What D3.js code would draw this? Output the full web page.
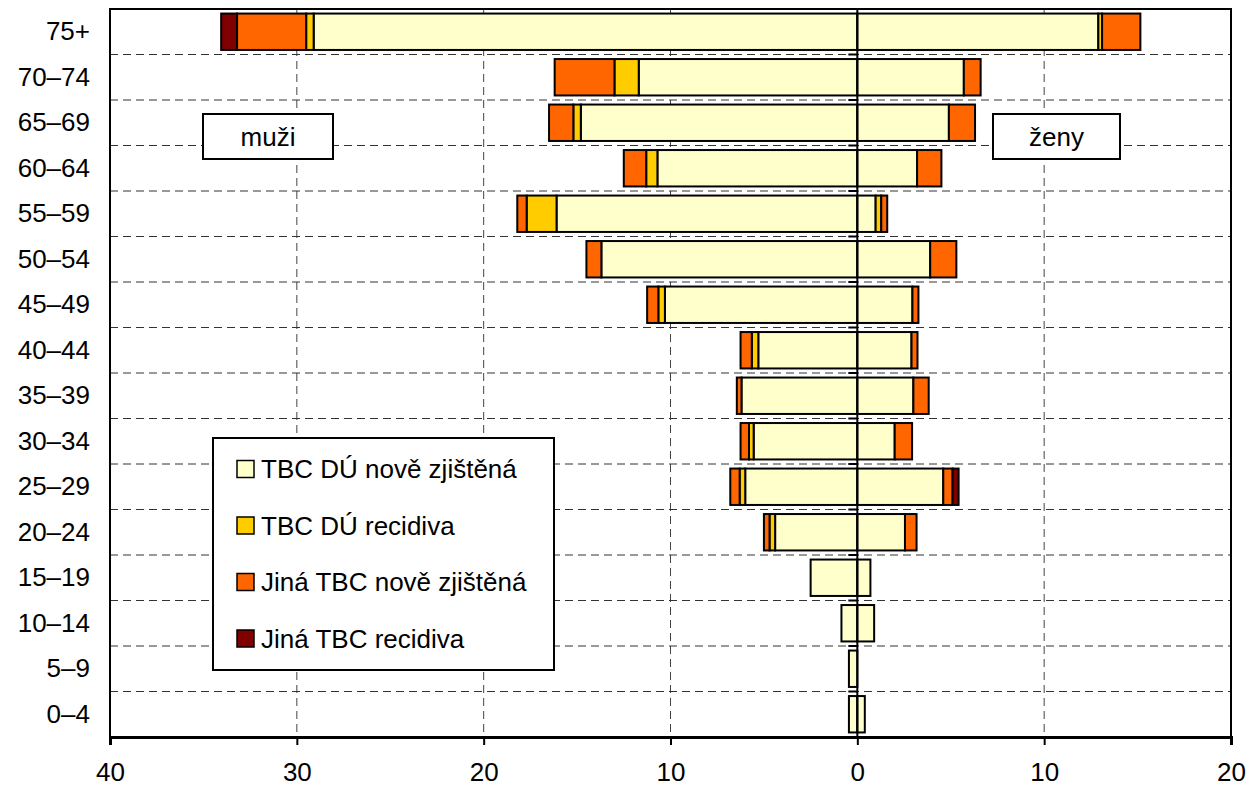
<!DOCTYPE html>
<html>
<head>
<meta charset="utf-8">
<script src="https://cdn.jsdelivr.net/npm/d3@7/dist/d3.min.js"></script>
<style>
  body { margin: 0; background: #fff; }
  svg text { font-family: "Liberation Sans", Arial, sans-serif; fill: #000; }
</style>
</head>
<body>
<svg id="chart" width="1255" height="789"></svg>
<script>
// age groups, top to bottom
var ageGroups = ['75+', '70–74', '65–69', '60–64', '55–59', '50–54', '45–49', '40–44',
    '35–39', '30–34', '25–29', '20–24', '15–19', '10–14', '5–9', '0–4'];

// men (left side)
var menDuNew = [29.1, 11.7, 14.8, 10.7, 16.1, 13.7, 10.3, 5.3, 6.2, 5.55, 6.0, 4.4, 2.5, 0.85, 0.45, 0.45];
var menDuRec = [0.4, 1.3, 0.4, 0.6, 1.6, 0, 0.35, 0.35, 0, 0.25, 0.3, 0.3, 0, 0, 0, 0];
var menOtherNew = [3.7, 3.2, 1.3, 1.2, 0.5, 0.8, 0.6, 0.6, 0.25, 0.45, 0.5, 0.3, 0, 0, 0, 0];
var menOtherRec = [0.85, 0, 0, 0, 0, 0, 0, 0, 0, 0, 0, 0, 0, 0, 0, 0];

// women (right side)
var womenDuNew = [12.9, 5.7, 4.9, 3.2, 0.98, 3.9, 2.95, 2.9, 3.0, 2.0, 4.6, 2.55, 0.7, 0.9, 0, 0.4];
var womenDuRec = [0.2, 0, 0, 0, 0.3, 0, 0, 0, 0, 0, 0, 0, 0, 0, 0, 0];
var womenOtherNew = [2.05, 0.9, 1.4, 1.3, 0.32, 1.4, 0.32, 0.32, 0.82, 0.93, 0.5, 0.62, 0, 0, 0, 0];
var womenOtherRec = [0, 0, 0, 0, 0, 0, 0, 0, 0, 0, 0.32, 0, 0, 0, 0, 0];

var seriesNames = ['TBC DÚ nově zjištěná', 'TBC DÚ recidiva', 'Jiná TBC nově zjištěná', 'Jiná TBC recidiva'];
var seriesColors = ['#FFFFCC', '#FFCC00', '#FF6600', '#800000'];
var xTicks = [-40, -30, -20, -10, 0, 10, 20];

var svg = d3.select('#chart');
var plotLeft = 110, plotRight = 1231, plotTop = 9, plotBottom = 737;
var fontSize = '26px';

var x = d3.scaleLinear().domain([-40, 20]).range([plotLeft, plotRight]);
var y = d3.scaleBand().domain(ageGroups).range([plotTop, plotBottom]).paddingInner(0.2).paddingOuter(0.1);

// grid: vertical dashed lines
svg.append('g').selectAll('line')
    .data(xTicks.filter(function(d) { return d !== 0 && d !== -40 && d !== 20; }))
    .enter().append('line')
    .attr('x1', function(d) { return x(d); })
    .attr('x2', function(d) { return x(d); })
    .attr('y1', plotTop).attr('y2', plotBottom)
    .attr('stroke', '#444').attr('stroke-width', 1)
    .attr('stroke-dasharray', '8,5');

// grid: horizontal dashed lines between age groups
var bounds = d3.range(1, ageGroups.length).map(function(i) {
    return plotTop + i * (plotBottom - plotTop) / ageGroups.length;
});
svg.append('g').selectAll('line')
    .data(bounds)
    .enter().append('line')
    .attr('x1', plotLeft).attr('x2', plotRight)
    .attr('y1', function(d) { return d; })
    .attr('y2', function(d) { return d; })
    .attr('stroke', '#333').attr('stroke-width', 1)
    .attr('stroke-dasharray', '8,5');

// build stacked segments (men negative, women positive)
var menSeries = [menDuNew, menDuRec, menOtherNew, menOtherRec];
var womenSeries = [womenDuNew, womenDuRec, womenOtherNew, womenOtherRec];
var segments = [];
ageGroups.forEach(function(age, i) {
    var m = 0, w = 0;
    for (var s = 0; s < 4; s++) {
        var mv = menSeries[s][i];
        if (mv > 0) segments.push({age: age, s: s, x0: -(m + mv), x1: -m});
        m += mv;
        var wv = womenSeries[s][i];
        if (wv > 0) segments.push({age: age, s: s, x0: w, x1: w + wv});
        w += wv;
    }
});

// bars
svg.append('g').selectAll('rect')
    .data(segments)
    .enter().append('rect')
    .attr('x', function(d) { return x(d.x0); })
    .attr('width', function(d) { return x(d.x1) - x(d.x0); })
    .attr('y', function(d) { return y(d.age); })
    .attr('height', y.bandwidth())
    .attr('fill', function(d) { return seriesColors[d.s]; })
    .attr('stroke', '#000')
    .attr('stroke-width', 2);

// centre axis with small ticks
svg.append('line')
    .attr('x1', x(0)).attr('x2', x(0))
    .attr('y1', plotTop).attr('y2', plotBottom)
    .attr('stroke', '#000').attr('stroke-width', 2);
svg.append('g').selectAll('line')
    .data(bounds)
    .enter().append('line')
    .attr('x1', x(0) - 9).attr('x2', x(0))
    .attr('y1', function(d) { return d; })
    .attr('y2', function(d) { return d; })
    .attr('stroke', '#000').attr('stroke-width', 2);

// frame
svg.append('rect')
    .attr('x', plotLeft).attr('y', plotTop)
    .attr('width', plotRight - plotLeft).attr('height', plotBottom - plotTop)
    .attr('fill', 'none').attr('stroke', '#000').attr('stroke-width', 2);

// x axis
var xAxis = svg.append('g')
    .attr('transform', 'translate(0,' + plotBottom + ')')
    .call(d3.axisBottom(x).tickValues(xTicks).tickFormat(function(d) { return Math.abs(d); })
        .tickSize(8).tickPadding(18));
xAxis.select('.domain').attr('stroke', '#000').attr('stroke-width', 3);
xAxis.selectAll('.tick line').attr('stroke', '#000').attr('stroke-width', 2);
xAxis.selectAll('text').style('font-size', fontSize);

// y axis labels
var yAxis = svg.append('g')
    .attr('transform', 'translate(' + plotLeft + ',0)')
    .call(d3.axisLeft(y).tickSize(0).tickPadding(20));
yAxis.select('.domain').remove();
yAxis.selectAll('text').style('font-size', fontSize);

// side labels
function sideLabel(txt, x0, x1) {
    svg.append('rect')
        .attr('x', x0).attr('y', 114)
        .attr('width', x1 - x0).attr('height', 45)
        .attr('fill', '#fff').attr('stroke', '#000').attr('stroke-width', 2);
    svg.append('text')
        .attr('x', (x0 + x1) / 2).attr('y', 137)
        .attr('dy', '0.35em')
        .attr('text-anchor', 'middle')
        .style('font-size', fontSize)
        .text(txt);
}
sideLabel('muži', 203, 333);
sideLabel('ženy', 993, 1120);

// legend
var legend = svg.append('g');
legend.append('rect')
    .attr('x', 213).attr('y', 438)
    .attr('width', 341).attr('height', 232)
    .attr('fill', '#fff').attr('stroke', '#000').attr('stroke-width', 2);
var items = legend.selectAll('g.item')
    .data(seriesNames)
    .enter().append('g')
    .attr('class', 'item')
    .attr('transform', function(d, i) { return 'translate(237,' + (469 + i * 56.5) + ')'; });
items.append('rect')
    .attr('x', 0).attr('y', -8.5)
    .attr('width', 17).attr('height', 17)
    .attr('fill', function(d, i) { return seriesColors[i]; })
    .attr('stroke', '#000').attr('stroke-width', 1.5);
items.append('text')
    .attr('x', 24).attr('y', 0)
    .attr('dy', '0.35em')
    .style('font-size', fontSize)
    .text(function(d) { return d; });
</script>
</body>
</html>
